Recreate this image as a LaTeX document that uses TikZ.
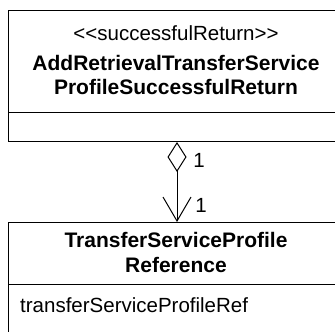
\documentclass[tikz,border=0pt]{standalone}
\usepackage{fontspec}
\setmainfont{Liberation Sans}
\usetikzlibrary{arrows.meta}
\begin{document}
\begin{tikzpicture}[x=1pt,y=-1pt,
  classbox/.style={draw, line width=1pt, rectangle, minimum width=337pt, inner sep=0pt, anchor=north west},
  txt/.style={font=\fontsize{20.5}{24}\selectfont, inner sep=0pt, align=center},
  btxt/.style={font=\fontsize{21}{24}\selectfont\bfseries, inner sep=0pt, align=center},
  mult/.style={font=\fontsize{20.5}{24}\selectfont, inner sep=0pt},
  assoc/.style={line width=1pt, {Diamond[open, length=30pt, width=19pt, line width=1pt]}-{Straight Barb[length=24pt, width=28pt, line width=1pt]}}]
\useasboundingbox (0,0) rectangle (335,332);
\node[classbox, minimum height=131pt] (top) at (8,10) {};
\draw[line width=1pt] (8,112) -- (345,112);
\node[classbox, minimum height=130pt] (bot) at (8,222) {};
\draw[line width=1pt] (8,284) -- (345,284);
\node[txt, anchor=base] (st) at (176,40) {<\kern0pt<successfulReturn>\kern0pt>};
\node[btxt, anchor=base] (tn1) at (176,70) {AddRetrievalTransferService};
\node[btxt, anchor=base] (tn2) at (176,94) {ProfileSuccessfulReturn};
\node[btxt, anchor=base] (bn1) at (176,247) {TransferServiceProfile};
\node[btxt, anchor=base] (bn2) at (176,272) {Reference};
\node[txt, anchor=base west] (attr) at (20,312) {transferServiceProfileRef};
\draw[assoc] (top.south) -- (bot.north);
\node[mult] (m1) at (199,160) {1};
\node[mult] (m2) at (201,205) {1};
\end{tikzpicture}
\end{document}
